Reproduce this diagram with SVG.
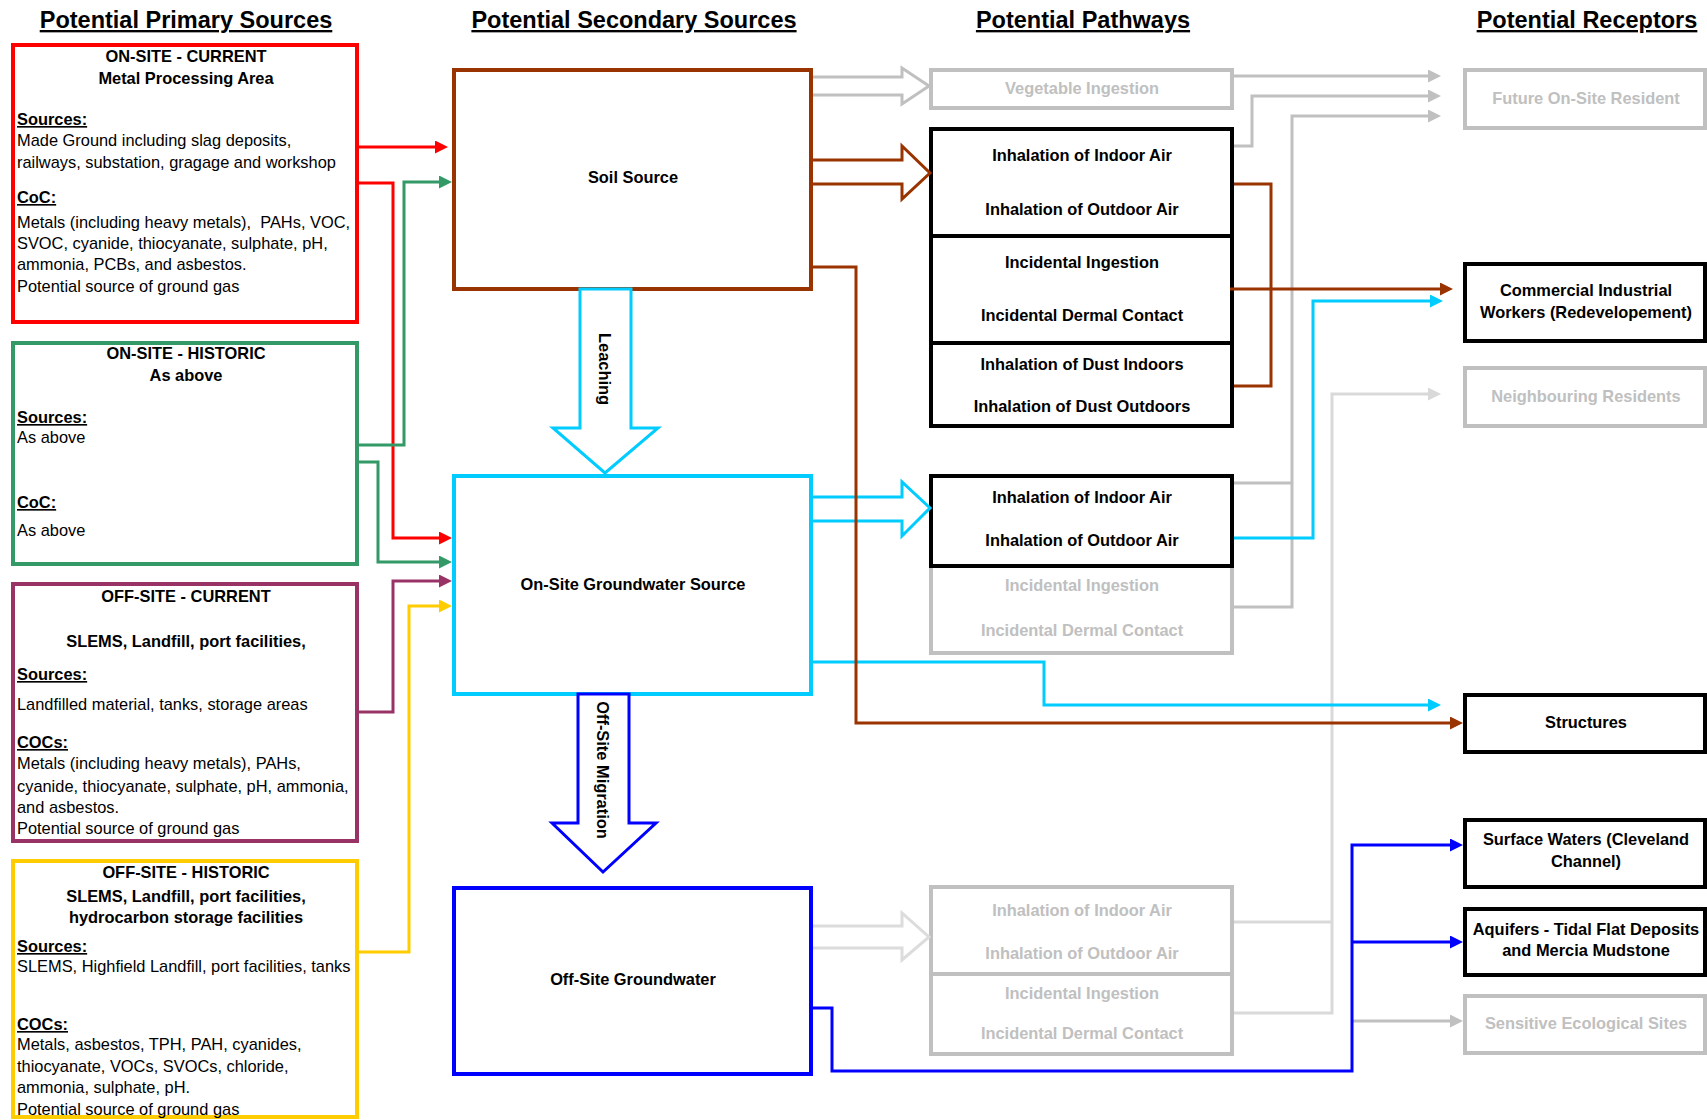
<svg xmlns="http://www.w3.org/2000/svg" width="1707" height="1120" viewBox="0 0 1707 1120">
<style>
text{font-family:"Liberation Sans",Arial,sans-serif;font-size:16.4px;fill:#000}
.b{font-weight:bold}
.c{text-anchor:middle}
.u{text-decoration:underline}
.title{font-size:23.5px;font-weight:bold;text-decoration:underline;text-anchor:middle}
.gt{fill:#c0c0c0}
.box{fill:#fff;stroke-width:4}
.ln{fill:none;stroke-width:3}
.ha{fill:#fff;stroke-width:3;stroke-linejoin:miter}
</style>
<defs>
<marker id="m-red" markerUnits="userSpaceOnUse" viewBox="0 0 13 13" markerWidth="13" markerHeight="13" refX="3" refY="6.5" orient="auto"><path d="M0,0L13,6.5L0,13z" fill="#ff0000"/></marker>
<marker id="m-green" markerUnits="userSpaceOnUse" viewBox="0 0 13 13" markerWidth="13" markerHeight="13" refX="3" refY="6.5" orient="auto"><path d="M0,0L13,6.5L0,13z" fill="#339966"/></marker>
<marker id="m-purple" markerUnits="userSpaceOnUse" viewBox="0 0 13 13" markerWidth="13" markerHeight="13" refX="3" refY="6.5" orient="auto"><path d="M0,0L13,6.5L0,13z" fill="#993366"/></marker>
<marker id="m-yellow" markerUnits="userSpaceOnUse" viewBox="0 0 13 13" markerWidth="13" markerHeight="13" refX="3" refY="6.5" orient="auto"><path d="M0,0L13,6.5L0,13z" fill="#ffcc00"/></marker>
<marker id="m-brown" markerUnits="userSpaceOnUse" viewBox="0 0 13 13" markerWidth="13" markerHeight="13" refX="3" refY="6.5" orient="auto"><path d="M0,0L13,6.5L0,13z" fill="#993300"/></marker>
<marker id="m-cyan" markerUnits="userSpaceOnUse" viewBox="0 0 13 13" markerWidth="13" markerHeight="13" refX="3" refY="6.5" orient="auto"><path d="M0,0L13,6.5L0,13z" fill="#00ccff"/></marker>
<marker id="m-blue" markerUnits="userSpaceOnUse" viewBox="0 0 13 13" markerWidth="13" markerHeight="13" refX="3" refY="6.5" orient="auto"><path d="M0,0L13,6.5L0,13z" fill="#0000ff"/></marker>
<marker id="m-gray" markerUnits="userSpaceOnUse" viewBox="0 0 13 13" markerWidth="13" markerHeight="13" refX="3" refY="6.5" orient="auto"><path d="M0,0L13,6.5L0,13z" fill="#c0c0c0"/></marker>
<marker id="m-lgray" markerUnits="userSpaceOnUse" viewBox="0 0 13 13" markerWidth="13" markerHeight="13" refX="3" refY="6.5" orient="auto"><path d="M0,0L13,6.5L0,13z" fill="#d9d9d9"/></marker>
</defs>
<rect width="1707" height="1120" fill="#fff"/>

<g id="titles">
<text class="title" x="186" y="28">Potential Primary Sources</text>
<text class="title" x="634" y="28">Potential Secondary Sources</text>
<text class="title" x="1083" y="28">Potential Pathways</text>
<text class="title" x="1587" y="28">Potential Receptors</text>
</g>

<g id="onsite-current">
<rect class="box" x="13" y="45" width="344" height="277" stroke="#ff0000"/>
<text class="b c" x="186" y="62">ON-SITE - CURRENT</text>
<text class="b c" x="186" y="84">Metal Processing Area</text>
<text class="b u" x="17" y="125">Sources:</text>
<text x="17" y="146">Made Ground including slag deposits,</text>
<text x="17" y="168">railways, substation, gragage and workshop</text>
<text class="b u" x="17" y="203">CoC:</text>
<text x="17" y="228" xml:space="preserve">Metals (including heavy metals),  PAHs, VOC,</text>
<text x="17" y="249">SVOC, cyanide, thiocyanate, sulphate, pH,</text>
<text x="17" y="270">ammonia, PCBs, and asbestos.</text>
<text x="17" y="292">Potential source of ground gas</text>
</g>

<g id="onsite-historic">
<rect class="box" x="13" y="343" width="344" height="221" stroke="#339966"/>
<text class="b c" x="186" y="359">ON-SITE - HISTORIC</text>
<text class="b c" x="186" y="381">As above</text>
<text class="b u" x="17" y="423">Sources:</text>
<text x="17" y="443">As above</text>
<text class="b u" x="17" y="508">CoC:</text>
<text x="17" y="536">As above</text>
</g>

<g id="offsite-current">
<rect class="box" x="13" y="584" width="344" height="257" stroke="#993366"/>
<text class="b c" x="186" y="602">OFF-SITE - CURRENT</text>
<text class="b c" x="186" y="647">SLEMS, Landfill, port facilities,</text>
<text class="b u" x="17" y="680">Sources:</text>
<text x="17" y="710">Landfilled material, tanks, storage areas</text>
<text class="b u" x="17" y="748">COCs:</text>
<text x="17" y="769">Metals (including heavy metals), PAHs,</text>
<text x="17" y="792">cyanide, thiocyanate, sulphate, pH, ammonia,</text>
<text x="17" y="813">and asbestos.</text>
<text x="17" y="834">Potential source of ground gas</text>
</g>

<g id="offsite-historic">
<rect class="box" x="13" y="861" width="344" height="256" stroke="#ffcc00"/>
<text class="b c" x="186" y="878">OFF-SITE - HISTORIC</text>
<text class="b c" x="186" y="902">SLEMS, Landfill, port facilities,</text>
<text class="b c" x="186" y="923">hydrocarbon storage facilities</text>
<text class="b u" x="17" y="952">Sources:</text>
<text x="17" y="972">SLEMS, Highfield Landfill, port facilities, tanks</text>
<text class="b u" x="17" y="1030">COCs:</text>
<text x="17" y="1050">Metals, asbestos, TPH, PAH, cyanides,</text>
<text x="17" y="1072">thiocyanate, VOCs, SVOCs, chloride,</text>
<text x="17" y="1093">ammonia, sulphate, pH.</text>
<text x="17" y="1115">Potential source of ground gas</text>
</g>

<g id="soil-source">
<rect class="box" x="454" y="70" width="357" height="219" stroke="#993300"/>
<text class="b c" x="633" y="183">Soil Source</text>
</g>

<g id="onsite-groundwater">
<rect class="box" x="454" y="476" width="357" height="218" stroke="#00ccff"/>
<text class="b c" x="633" y="590">On-Site Groundwater Source</text>
</g>

<g id="offsite-groundwater">
<rect class="box" x="454" y="888" width="357" height="186" stroke="#0000ff"/>
<text class="b c" x="633" y="985">Off-Site Groundwater</text>
</g>

<g id="vegetable-ingestion">
<rect class="box" x="931" y="70" width="301" height="38" stroke="#c0c0c0"/>
<text class="b c gt" x="1082" y="94">Vegetable Ingestion</text>
</g>

<g id="soil-pathways">
<rect class="box" x="931" y="129" width="301" height="297" stroke="#000"/>
<line x1="931" y1="236" x2="1232" y2="236" stroke="#000" stroke-width="4"/>
<line x1="931" y1="343" x2="1232" y2="343" stroke="#000" stroke-width="4"/>
<text class="b c" x="1082" y="161">Inhalation of Indoor Air</text>
<text class="b c" x="1082" y="215">Inhalation of Outdoor Air</text>
<text class="b c" x="1082" y="268">Incidental Ingestion</text>
<text class="b c" x="1082" y="321">Incidental Dermal Contact</text>
<text class="b c" x="1082" y="370">Inhalation of Dust Indoors</text>
<text class="b c" x="1082" y="412">Inhalation of Dust Outdoors</text>
</g>

<g id="groundwater-pathways">
<path d="M931,566V653H1232V566" fill="#fff" stroke="#c0c0c0" stroke-width="4"/>
<rect class="box" x="931" y="476" width="301" height="90" stroke="#000"/>
<text class="b c" x="1082" y="503">Inhalation of Indoor Air</text>
<text class="b c" x="1082" y="546">Inhalation of Outdoor Air</text>
<text class="b c gt" x="1082" y="591">Incidental Ingestion</text>
<text class="b c gt" x="1082" y="636">Incidental Dermal Contact</text>
</g>

<g id="offsite-pathways">
<rect class="box" x="931" y="887" width="301" height="167" stroke="#c0c0c0"/>
<line x1="931" y1="974" x2="1232" y2="974" stroke="#c0c0c0" stroke-width="4"/>
<text class="b c gt" x="1082" y="916">Inhalation of Indoor Air</text>
<text class="b c gt" x="1082" y="959">Inhalation of Outdoor Air</text>
<text class="b c gt" x="1082" y="999">Incidental Ingestion</text>
<text class="b c gt" x="1082" y="1039">Incidental Dermal Contact</text>
</g>

<g id="future-resident">
<rect class="box" x="1465" y="70" width="240" height="58" stroke="#c0c0c0"/>
<text class="b c gt" x="1586" y="104">Future On-Site Resident</text>
</g>

<g id="commercial-workers">
<rect class="box" x="1465" y="264" width="240" height="77" stroke="#000"/>
<text class="b c" x="1586" y="296">Commercial Industrial</text>
<text class="b c" x="1586" y="318">Workers (Redevelopement)</text>
</g>

<g id="neighbouring-residents">
<rect class="box" x="1465" y="368" width="240" height="58" stroke="#c0c0c0"/>
<text class="b c gt" x="1586" y="402">Neighbouring Residents</text>
</g>

<g id="structures">
<rect class="box" x="1465" y="695" width="240" height="57" stroke="#000"/>
<text class="b c" x="1586" y="728">Structures</text>
</g>

<g id="surface-waters">
<rect class="box" x="1465" y="820" width="240" height="67" stroke="#000"/>
<text class="b c" x="1586" y="845">Surface Waters (Cleveland</text>
<text class="b c" x="1586" y="867">Channel)</text>
</g>

<g id="aquifers">
<rect class="box" x="1465" y="909" width="240" height="66" stroke="#000"/>
<text class="b c" x="1586" y="935">Aquifers - Tidal Flat Deposits</text>
<text class="b c" x="1586" y="956">and Mercia Mudstone</text>
</g>

<g id="sensitive-sites">
<rect class="box" x="1465" y="996" width="240" height="57" stroke="#c0c0c0"/>
<text class="b c gt" x="1586" y="1029">Sensitive Ecological Sites</text>
</g>

<g id="connectors">
<path class="ln" stroke="#c0c0c0" d="M1234,76H1431" marker-end="url(#m-gray)"/>
<path class="ln" stroke="#c0c0c0" d="M1234,146H1252V96H1431" marker-end="url(#m-gray)"/>
<path class="ln" stroke="#c0c0c0" d="M1234,607H1292V116H1431" marker-end="url(#m-gray)"/>
<path class="ln" stroke="#c0c0c0" d="M1234,483H1292"/>
<path class="ln" stroke="#d9d9d9" d="M1234,1013H1332V394H1431" marker-end="url(#m-lgray)"/>
<path class="ln" stroke="#d9d9d9" d="M1234,922H1332"/>
<path class="ln" stroke="#c0c0c0" d="M1352,1021H1453" marker-end="url(#m-gray)"/>
<path class="ha" stroke="#c0c0c0" d="M813,77H902V68L929,86L902,104V95H813"/>
<path class="ha" stroke="#993300" d="M813,160H902V146L930,173L902,199V184H813"/>
<path class="ha" stroke="#00ccff" d="M813,497H902V482L930,508L902,536V521H813"/>
<path class="ha" stroke="#dcdcdc" d="M813,926H902V913L929,937L902,960V948H813"/>
<path class="ha" stroke="#00ccff" d="M580,289V428H553L605,473L658,428H631V289Z"/>
<path class="ha" stroke="#0000ff" d="M578,694V823H552L603,872L656,823H629V694Z"/>
<text class="b" x="0" y="0" text-anchor="middle" transform="translate(599,369) rotate(90)">Leaching</text>
<text class="b" x="0" y="0" text-anchor="middle" transform="translate(597,770) rotate(90)">Off-Site Migration</text>
<path class="ln" stroke="#ff0000" d="M359,147H438" marker-end="url(#m-red)"/>
<path class="ln" stroke="#ff0000" d="M359,183H393V538H442" marker-end="url(#m-red)"/>
<path class="ln" stroke="#339966" d="M359,445H404V182H442" marker-end="url(#m-green)"/>
<path class="ln" stroke="#339966" d="M359,462H378V562H442" marker-end="url(#m-green)"/>
<path class="ln" stroke="#993366" d="M359,712H393V581H442" marker-end="url(#m-purple)"/>
<path class="ln" stroke="#ffcc00" d="M359,952H409V606H442" marker-end="url(#m-yellow)"/>
<path class="ln" stroke="#00ccff" d="M813,662H1044V705H1431" marker-end="url(#m-cyan)"/>
<path class="ln" stroke="#993300" d="M813,267H856V723H1453" marker-end="url(#m-brown)"/>
<path class="ln" stroke="#993300" d="M1234,184H1271V386H1234"/>
<path class="ln" stroke="#993300" d="M1230,289H1443" marker-end="url(#m-brown)"/>
<path class="ln" stroke="#00ccff" d="M1234,538H1313V301H1433" marker-end="url(#m-cyan)"/>
<path class="ln" stroke="#0000ff" d="M813,1008H832V1071H1352V845H1453" marker-end="url(#m-blue)"/>
<path class="ln" stroke="#0000ff" d="M1352,942H1453" marker-end="url(#m-blue)"/>
</g>
</svg>
